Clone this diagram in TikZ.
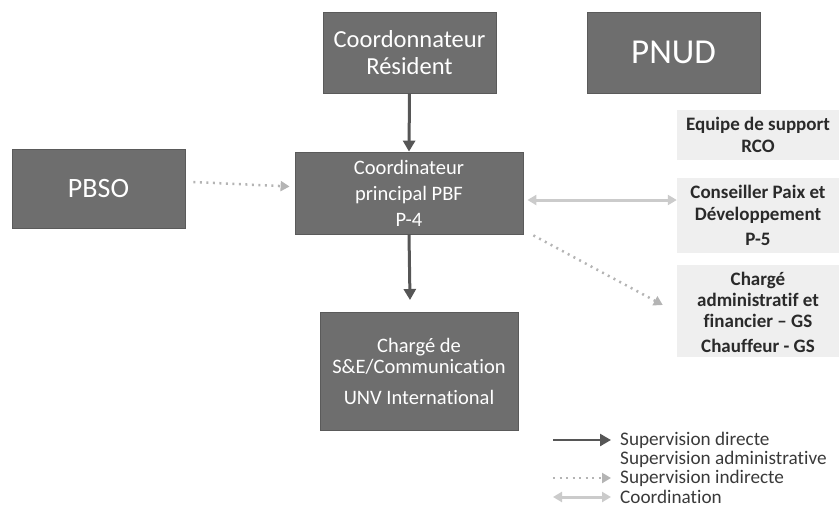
\documentclass[tikz,border=0pt]{standalone}
\usepackage{fontspec}
\setmainfont{Carlito}[Ligatures={NoCommon}]
\usetikzlibrary{arrows.meta}
\definecolor{boxgray}{HTML}{6E6E6E}
\definecolor{boxedge}{HTML}{5A5A5A}
\definecolor{darkarrow}{HTML}{565656}
\definecolor{lightarrow}{HTML}{CBCBCB}
\definecolor{dotarrow}{HTML}{B4B4B4}
\definecolor{sidefill}{HTML}{EFEFEF}
\definecolor{sidetext}{HTML}{2A2A2A}
\definecolor{legtext}{HTML}{3A3A3A}
\tikzset{
  darkbox/.style={draw=boxedge, line width=0.8pt, fill=boxgray, text=white, align=center, inner sep=0pt},
  sidebox/.style={fill=sidefill, text=sidetext, align=center, inner sep=0pt, minimum width=162pt,
    font=\bfseries\fontsize{19}{22}\selectfont},
  direct/.style={draw=darkarrow, line width=3pt, -{Triangle[width=12pt,length=11pt]}},
  indirect/.style={draw=dotarrow, line width=2.5pt, dash pattern=on 2pt off 4.5pt, -{Triangle[width=10pt,length=9pt]}},
  coordarrow/.style={draw=lightarrow, line width=3pt, {Triangle[width=10pt,length=9pt]}-{Triangle[width=10pt,length=9pt]}},
  legend/.style={anchor=west, text=legtext, inner sep=0pt, font=\fontsize{19.2}{19}\selectfont}
}
\begin{document}
\begin{tikzpicture}[x=1pt,y=-1pt]
\useasboundingbox (0,0) rectangle (839,520);
% dark boxes
\node[darkbox, minimum width=173pt, minimum height=81pt, font=\fontsize{24.5}{27}\selectfont] (cr) at (409.5,52.5) {Coordonnateur\\Résident};
\node[darkbox, minimum width=173pt, minimum height=81pt, font=\fontsize{35}{38}\selectfont] (pnud) at (673.5,52.5) {PNUD};
\node[darkbox, minimum width=173pt, minimum height=79pt, font=\fontsize{28}{30}\selectfont] (pbso) at (98.5,188.5) {PBSO};
\node[darkbox, minimum width=228pt, minimum height=82pt, font=\fontsize{20.5}{26}\selectfont] (pbf) at (409,193) {Coordinateur\\principal PBF\\P-4};
\node[darkbox, minimum width=198pt, minimum height=118pt, font=\fontsize{20.5}{21}\selectfont] (se) at (419,371) {Chargé de\\S\&E/Communication\\[10pt]UNV International};
% side boxes
\node[sidebox, minimum height=50pt] (rco) at (758,135) {Equipe de support\\RCO};
\node[sidebox, minimum height=75pt] (cons) at (758,215.5) {Conseiller Paix et\\Développement\\[3pt]P-5};
\node[sidebox, minimum height=70pt, font=\bfseries\fontsize{19}{21}\selectfont] (chg) at (758,300) {Chargé\\administratif et\\financier – GS};
\node[sidebox, minimum height=22pt] (chf) at (758,346) {Chauffeur - GS};
% connectors
\coordinate (setop) at (410,300);
\draw[direct] (cr.south) -- (pbf.north);
\draw[direct] (pbf.south) -- (setop);
\draw[indirect] ([xshift=8pt,yshift=6.5pt]pbso.east) -- ([xshift=-5pt,yshift=6.5pt]pbf.west);
\draw[coordarrow] ([xshift=4pt,yshift=-7pt]pbf.east) -- ([yshift=15.5pt]cons.west);
\draw[indirect] ([xshift=10pt,yshift=-1pt]pbf.south east) -- ([xshift=-14pt,yshift=-5pt]chg.west);
% legend
\coordinate (l1a) at (553,440); \coordinate (l1b) at (611,440);
\coordinate (l3a) at (553,478); \coordinate (l3b) at (611,478);
\coordinate (l4a) at (553,497); \coordinate (l4b) at (611,497);
\draw[direct, line width=2.5pt] (l1a) -- (l1b);
\draw[indirect] (l3a) -- (l3b);
\draw[coordarrow] (l4a) -- (l4b);
\node[legend] (t1) at (620,440) {Supervision directe};
\node[legend] (t2) at (620,459) {Supervision administrative};
\node[legend] (t3) at (620,478) {Supervision indirecte};
\node[legend] (t4) at (620,497) {Coordination};
\end{tikzpicture}
\end{document}
